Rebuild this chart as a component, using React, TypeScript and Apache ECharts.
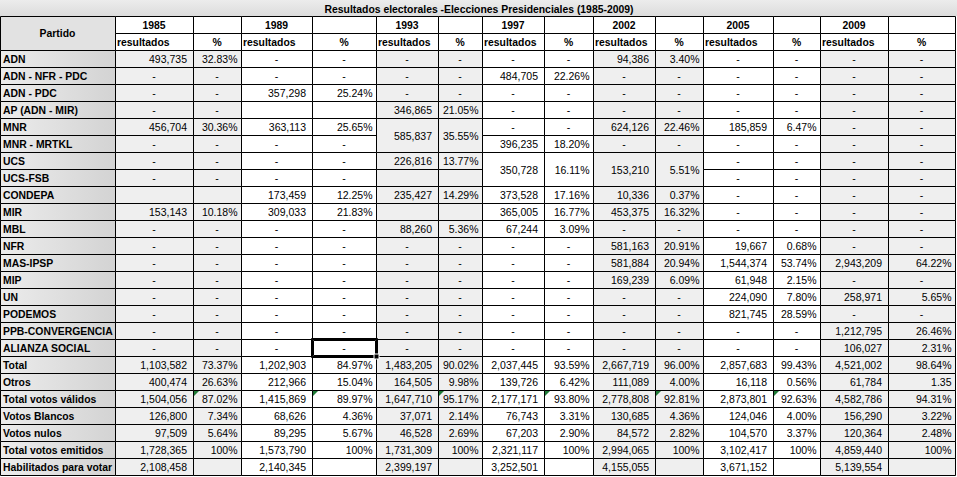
import React, { useEffect, useRef } from "react";
import * as echarts from "echarts";

const TITLE = "Resultados electorales -Elecciones Presidenciales (1985-2009)";
const YEARS = ["1985", "1989", "1993", "1997", "2002", "2005", "2009"];
const PARTIES = [
  "ADN", "ADN - NFR - PDC", "ADN - PDC", "AP (ADN - MIR)", "MNR", "MNR - MRTKL",
  "UCS", "UCS-FSB", "CONDEPA", "MIR", "MBL", "NFR", "MAS-IPSP", "MIP", "UN",
  "PODEMOS", "PPB-CONVERGENCIA", "ALIANZA SOCIAL",
];

type V = number | string | null;
const D = null; // shown as "-"
const B = ""; // empty cell

const VOTES_1985: V[] = [493735, D, D, D, 456704, D, D, D, B, 153143, D, D, D, D, D, D, D, D];
const PCT_1985: V[] = [32.83, D, D, D, 30.36, D, D, D, B, 10.18, D, D, D, D, D, D, D, D];
const VOTES_1989: V[] = [D, D, 357298, B, 363113, D, D, D, 173459, 309033, D, D, D, D, D, D, D, D];
const PCT_1989: V[] = [D, D, 25.24, B, 25.65, D, D, D, 12.25, 21.83, D, D, D, D, D, D, D, D];
const VOTES_1993: V[] = [D, D, D, 346865, 585837, B, 226816, B, 235427, B, 88260, D, D, D, D, D, D, D];
const PCT_1993: V[] = [D, D, D, 21.05, 35.55, B, 13.77, B, 14.29, B, 5.36, D, D, D, D, D, D, D];
const VOTES_1997: V[] = [D, 484705, D, D, D, 396235, 350728, B, 373528, 365005, 67244, D, D, D, D, D, D, D];
const PCT_1997: V[] = [D, 22.26, D, D, D, 18.2, 16.11, B, 17.16, 16.77, 3.09, D, D, D, D, D, D, D];
const VOTES_2002: V[] = [94386, D, D, D, 624126, D, 153210, B, 10336, 453375, D, 581163, 581884, 169239, D, D, D, D];
const PCT_2002: V[] = [3.4, D, D, D, 22.46, D, 5.51, B, 0.37, 16.32, D, 20.91, 20.94, 6.09, D, D, D, D];
const VOTES_2005: V[] = [D, D, D, D, 185859, D, D, D, D, D, D, 19667, 1544374, 61948, 224090, 821745, D, D];
const PCT_2005: V[] = [D, D, D, D, 6.47, D, D, D, D, D, D, 0.68, 53.74, 2.15, 7.8, 28.59, D, D];
const VOTES_2009: V[] = [D, D, D, D, D, D, D, D, D, D, D, D, 2943209, D, 258971, D, 1212795, 106027];
const PCT_2009: V[] = [D, D, D, D, D, D, D, D, D, D, D, D, 64.22, D, 5.65, D, 26.46, 2.31];

// merged cells: year index, first party row, number of rows
const MERGES = [
  { year: 2, row: 4, span: 2 },
  { year: 3, row: 6, span: 2 },
  { year: 4, row: 6, span: 2 },
];

const SUMMARY_LABELS = [
  "Total", "Otros", "Total votos válidos", "Votos Blancos", "Votos nulos",
  "Total votos emitidos", "Habilitados para votar",
];
const TOTAL_VOTES: V[] = [1103582, 1202903, 1483205, 2037445, 2667719, 2857683, 4521002];
const TOTAL_PCT: V[] = [73.37, 84.97, 90.02, 93.59, 96.0, 99.43, 98.64];
const OTROS_VOTES: V[] = [400474, 212966, 164505, 139726, 111089, 16118, 61784];
const OTROS_PCT: V[] = [26.63, 15.04, 9.98, 6.42, 4.0, 0.56, "1.35"];
const VALIDOS_VOTES: V[] = [1504056, 1415869, 1647710, 2177171, 2778808, 2873801, 4582786];
const VALIDOS_PCT: V[] = [87.02, 89.97, 95.17, 93.8, 92.81, 92.63, 94.31];
const BLANCOS_VOTES: V[] = [126800, 68626, 37071, 76743, 130685, 124046, 156290];
const BLANCOS_PCT: V[] = [7.34, 4.36, 2.14, 3.31, 4.36, 4.0, 3.22];
const NULOS_VOTES: V[] = [97509, 89295, 46528, 67203, 84572, 104570, 120364];
const NULOS_PCT: V[] = [5.64, 5.67, 2.69, 2.9, 2.82, 3.37, 2.48];
const EMITIDOS_VOTES: V[] = [1728365, 1573790, 1731309, 2321117, 2994065, 3102417, 4859440];
const EMITIDOS_PCT: V[] = [100, 100, 100, 100, 100, 100, 100];
const HABILITADOS_VOTES: V[] = [2108458, 2140345, 2399197, 3252501, 4155055, 3671152, 5139554];
const HABILITADOS_PCT: V[] = [B, B, B, B, B, B, B];

// layout
const COLS = [0, 115, 193, 241, 312, 376, 438, 482, 544, 593, 655, 703, 773, 820, 888, 955];
const ROW_H = 17;
const TOP = 16;
const rowY = (k: number) => (k === 0 ? 0 : TOP + ROW_H * (k - 1));

const FONT = '"Liberation Sans", Arial, sans-serif';
const REG = `10.5px ${FONT}`;
const BOLD = `bold 10.4px ${FONT}`;

function fmtVotes(v: V): string {
  if (v === null) return "-";
  if (typeof v === "string") return v;
  return v.toLocaleString("en-US");
}
function fmtPct(v: V): string {
  if (v === null) return "-";
  if (typeof v === "string") return v;
  if (v === 100) return "100%";
  return v.toFixed(2) + "%";
}

function buildGraphics(): any[] {
  const rects: any[] = [];
  const texts: any[] = [];
  const overlays: any[] = [];
  const W = 957;

  const partyVotes = [VOTES_1985, VOTES_1989, VOTES_1993, VOTES_1997, VOTES_2002, VOTES_2005, VOTES_2009];
  const partyPct = [PCT_1985, PCT_1989, PCT_1993, PCT_1997, PCT_2002, PCT_2005, PCT_2009];
  const sumVotes = [TOTAL_VOTES, OTROS_VOTES, VALIDOS_VOTES, BLANCOS_VOTES, NULOS_VOTES, EMITIDOS_VOTES, HABILITADOS_VOTES];
  const sumPct = [TOTAL_PCT, OTROS_PCT, VALIDOS_PCT, BLANCOS_PCT, NULOS_PCT, EMITIDOS_PCT, HABILITADOS_PCT];

  const cell = (c0: number, c1: number, r0: number, r1: number, fill: any) => {
    const x0 = COLS[c0], x1 = COLS[c1], y0 = rowY(r0), y1 = rowY(r1);
    rects.push({
      type: "rect", silent: true,
      shape: { x: x0 + 0.5, y: y0 + 0.5, width: x1 - x0, height: y1 - y0 },
      style: { fill, stroke: "#000", lineWidth: 1 },
    });
  };
  const text = (str: string, x: number, y: number, align: string, font: string) => {
    if (!str) return;
    texts.push({
      type: "text", silent: true, x, y,
      style: {
        text: str, font, fill: "#000",
        align, verticalAlign: "middle", textAlign: align, textVerticalAlign: "middle",
      },
    });
  };

  // title row
  rects.push({
    type: "rect", silent: true,
    shape: { x: 0, y: 0, width: W, height: rowY(1) },
    style: {
      fill: { type: "linear", x: 0, y: 0, x2: 0, y2: 1, colorStops: [
        { offset: 0, color: "#ececec" }, { offset: 1, color: "#dcdcdc" },
      ] },
    },
  });
  text(TITLE, 479, rowY(0) + 9, "center", BOLD);

  const labelFill = {
    type: "linear", x: 0, y: 0, x2: 1, y2: 0,
    colorStops: [{ offset: 0, color: "#ececec" }, { offset: 1, color: "#d3d3d3" }],
  };

  // header
  cell(0, 1, 1, 3, "#e2e2e2");
  text("Partido", (COLS[0] + COLS[1]) / 2, rowY(2) + 0.5, "center", BOLD);
  YEARS.forEach((yr, i) => {
    const cv = 1 + i * 2, cp = cv + 1;
    cell(cv, cv + 1, 1, 2, "#ffffff");
    cell(cp, cp + 1, 1, 2, "#ffffff");
    cell(cv, cv + 1, 2, 3, "#ffffff");
    cell(cp, cp + 1, 2, 3, "#ffffff");
    text(yr, (COLS[cv] + COLS[cv + 1]) / 2, (rowY(1) + rowY(2)) / 2 + 0.5, "center", BOLD);
    text("resultados", COLS[cv] + 2, (rowY(2) + rowY(3)) / 2 + 0.5, "left", BOLD);
    text("%", (COLS[cp] + COLS[cp + 1]) / 2, (rowY(2) + rowY(3)) / 2 + 0.5, "center", BOLD);
  });

  const labels = [...PARTIES, ...SUMMARY_LABELS];
  labels.forEach((lab, r) => {
    const gr = 3 + r;
    cell(0, 1, gr, gr + 1, labelFill);
    text(lab, COLS[0] + 3, (rowY(gr) + rowY(gr + 1)) / 2 + 0.5, "left", BOLD);
  });

  const valueCell = (v: V, c: number, r0: number, r1: number, fill: string, isPct: boolean) => {
    cell(c, c + 1, r0, r1, fill);
    const cy = (rowY(r0) + rowY(r1)) / 2 + 0.5;
    if (v === B) return;
    if (v === null) {
      text("-", (COLS[c] + COLS[c + 1]) / 2, cy, "center", REG);
      return;
    }
    const s = isPct ? fmtPct(v) : fmtVotes(v);
    text(s, COLS[c + 1] - (isPct ? 3.5 : 6), cy, "right", REG);
  };

  YEARS.forEach((_, i) => {
    const cv = 1 + i * 2, cp = cv + 1;
    const fill = i % 2 === 0 ? "#efefef" : "#ffffff";
    for (let r = 0; r < PARTIES.length; r++) {
      const m = MERGES.find((g) => g.year === i && r >= g.row && r < g.row + g.span);
      if (m && r !== m.row) continue;
      const span = m ? m.span : 1;
      valueCell(partyVotes[i][r], cv, 3 + r, 3 + r + span, fill, false);
      valueCell(partyPct[i][r], cp, 3 + r, 3 + r + span, fill, true);
    }
    for (let s = 0; s < SUMMARY_LABELS.length; s++) {
      const gr = 3 + PARTIES.length + s;
      valueCell(sumVotes[s][i], cv, gr, gr + 1, fill, false);
      valueCell(sumPct[s][i], cp, gr, gr + 1, fill, true);
    }
    // green error markers on "Total votos válidos" percentages
    if (i < 6) {
      const gr = 3 + PARTIES.length + 2;
      const x = COLS[cp] + 1, y = rowY(gr) + 1;
      overlays.push({
        type: "polygon", silent: true,
        shape: { points: [[x, y], [x + 5, y], [x, y + 5]] },
        style: { fill: "#1f7a36" },
      });
    }
  });

  // selected cell (ALIANZA SOCIAL, 1989 %) - drawn under the texts
  const sr = 3 + PARTIES.indexOf("ALIANZA SOCIAL");
  const sc = 4;
  const sx0 = COLS[sc], sx1 = COLS[sc + 1], sy0 = rowY(sr), sy1 = rowY(sr + 1);
  rects.push({
    type: "rect", silent: true,
    shape: { x: sx0 - 0.5, y: sy0 - 0.5, width: sx1 - sx0 + 2, height: sy1 - sy0 + 2 },
    style: { fill: "transparent", stroke: "#000", lineWidth: 1 },
  });
  rects.push({
    type: "rect", silent: true,
    shape: { x: sx0 + 1.5, y: sy0 + 1.5, width: sx1 - sx0 - 2, height: sy1 - sy0 - 2 },
    style: { fill: "transparent", stroke: "#000", lineWidth: 1 },
  });
  overlays.push({
    type: "rect", silent: true,
    shape: { x: sx1 - 2, y: sy1 - 2, width: 5, height: 5 },
    style: { fill: "#000", stroke: "#fff", lineWidth: 1 },
  });

  return [...rects, ...texts, ...overlays];
}

export default function App() {
  const ref = useRef<HTMLDivElement>(null);
  useEffect(() => {
    document.body.style.margin = "0";
    if (!ref.current) return;
    const chart = echarts.init(ref.current, undefined, { renderer: "svg" });
    chart.setOption({
      animation: false,
      backgroundColor: "#ffffff",
      graphic: { elements: buildGraphics() },
    });
    return () => chart.dispose();
  }, []);
  return <div ref={ref} style={{ width: 957, height: 477 }} />;
}
